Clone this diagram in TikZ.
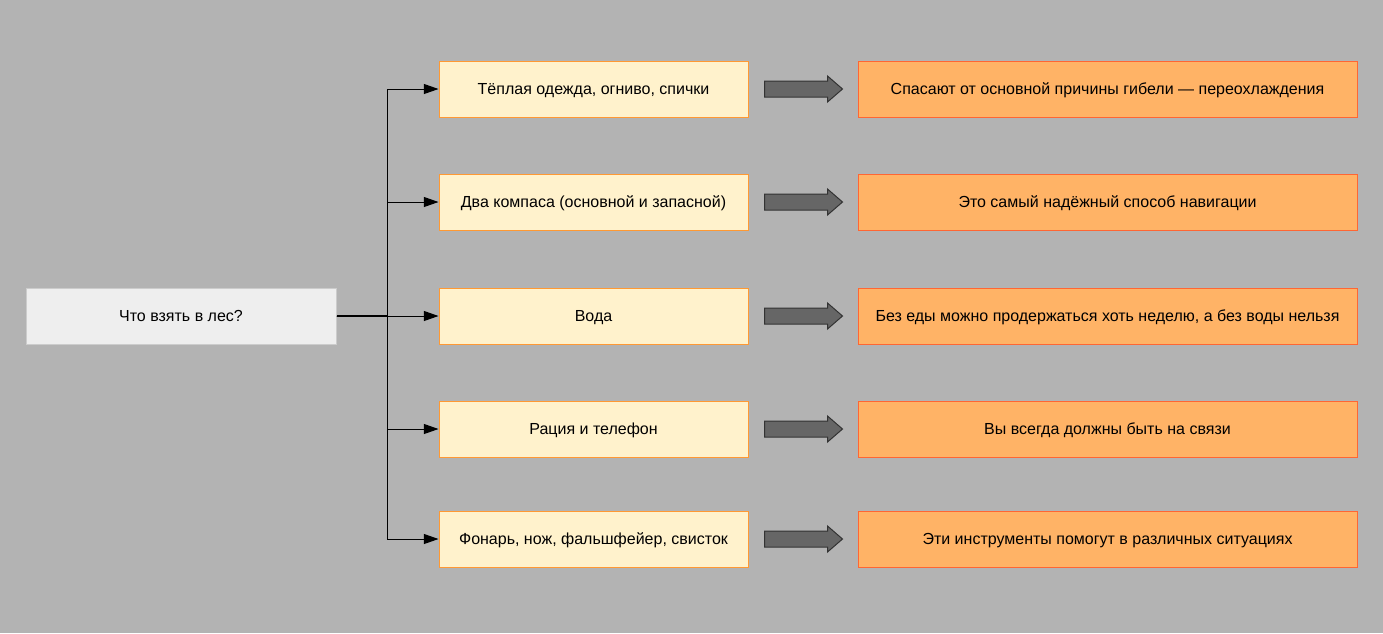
\documentclass[tikz,border=0pt]{standalone}
\usepackage{fontspec}
\setmainfont{Liberation Sans}
\usetikzlibrary{arrows.meta,calc}
\definecolor{bg}{HTML}{B3B3B3}
\definecolor{rootfill}{HTML}{EEEEEE}
\definecolor{rootdraw}{HTML}{CCCCCC}
\definecolor{midfill}{HTML}{FFF2CC}
\definecolor{middraw}{HTML}{FF9933}
\definecolor{rightfill}{HTML}{FFB366}
\definecolor{rightdraw}{HTML}{FF6633}
\definecolor{arrfill}{HTML}{666666}
\definecolor{arrdraw}{HTML}{333333}
\begin{document}
\begin{tikzpicture}[x=0.75pt,y=-0.75pt,
  every node/.style={font=\fontsize{12pt}{14pt}\selectfont, inner sep=0pt, line width=0.75pt, text height=8.6pt, text depth=0pt},
  rootbox/.style={draw=rootdraw, fill=rootfill, minimum width=232.5pt, minimum height=42pt},
  midbox/.style={draw=middraw, fill=midfill, minimum width=231.75pt, minimum height=42pt},
  rightbox/.style={draw=rightdraw, fill=rightfill, minimum width=374.25pt, minimum height=42pt},
  conn/.style={draw=black, line width=0.75pt, -{Triangle[length=11pt,width=7.5pt]}},
  blockarrow/.style={draw=arrdraw, fill=arrfill, line width=0.75pt}
]
\fill[bg] (0,0) rectangle (1383,633);
\useasboundingbox (0,0) rectangle (1383,633);
\node[rootbox] (root) at (181,316) {Что взять в лес?};
\node[midbox] (m1) at (593.5,89) {Тёплая одежда, огниво, спички};
\node[midbox] (m2) at (593.5,202) {Два компаса (основной и запасной)};
\node[midbox] (m3) at (593.5,316) {Вода};
\node[midbox] (m4) at (593.5,429) {Рация и телефон};
\node[midbox] (m5) at (593.5,539) {Фонарь, нож, фальшфейер, свисток};
\node[rightbox] (r1) at (1107.5,89) {Спасают от основной причины гибели — переохлаждения};
\node[rightbox] (r2) at (1107.5,202) {Это самый надёжный способ навигации};
\node[rightbox] (r3) at (1107.5,316) {Без еды можно продержаться хоть неделю, а без воды нельзя};
\node[rightbox] (r4) at (1107.5,429) {Вы всегда должны быть на связи};
\node[rightbox] (r5) at (1107.5,539) {Эти инструменты помогут в различных ситуациях};
\draw[line width=1.5pt] (root.east) -- ++(51,0);
\foreach \i in {1,...,5}{
  \draw[conn] (root.east) -- ++(51,0) |- (m\i.west);
  \draw[blockarrow] ($(m\i.east)+(16,-8)$) -- ($(r\i.west)+(-30,-8)$) -- ($(r\i.west)+(-30,-13)$)
     -- ($(r\i.west)+(-15,0)$) -- ($(r\i.west)+(-30,13)$) -- ($(r\i.west)+(-30,8)$)
     -- ($(m\i.east)+(16,8)$) -- cycle;
}
\end{tikzpicture}
\end{document}
